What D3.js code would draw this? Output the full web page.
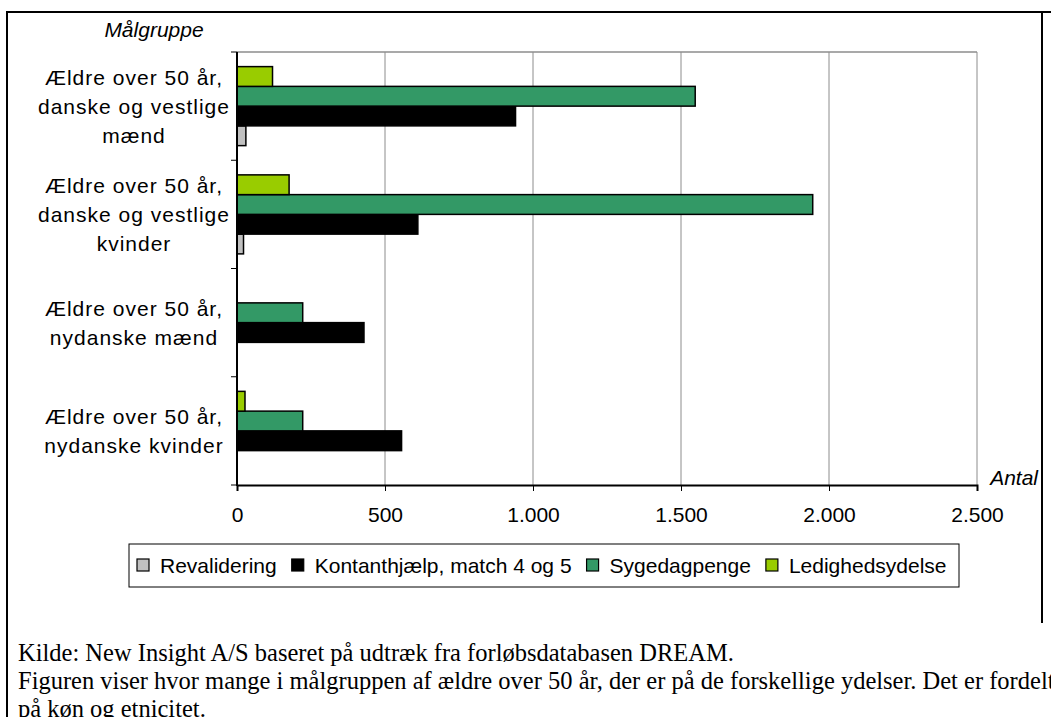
<!DOCTYPE html>
<html>
<head>
<meta charset="utf-8">
<script src="https://cdn.jsdelivr.net/npm/d3@7"></script>
<style>
  body { margin: 0; background: #fff; }
  svg { display: block; font-family: "Liberation Sans", Arial, sans-serif; }
</style>
</head>
<body>
<svg id="chart" width="1051" height="717"></svg>
<script>
// categories (top to bottom), each label split in lines as in the original
var categories = [
  ['Ældre over 50 år,', 'danske og vestlige', 'mænd'],
  ['Ældre over 50 år,', 'danske og vestlige', 'kvinder'],
  ['Ældre over 50 år,', 'nydanske mænd'],
  ['Ældre over 50 år,', 'nydanske kvinder']
];
var seriesNames = ['Revalidering', 'Kontanthjælp, match 4 og 5', 'Sygedagpenge', 'Ledighedsydelse'];
var revalidering    = [30, 22, 0, 0];
var kontanthjaelp   = [941, 611, 429, 556];
var sygedagpenge    = [1548, 1945, 222, 222];
var ledighedsydelse = [120, 176, 0, 27];
var xTicks = [0, 500, 1000, 1500, 2000, 2500];
var footnote = [
  'Kilde: New Insight A/S baseret på udtræk fra forløbsdatabasen DREAM.',
  'Figuren viser hvor mange i målgruppen af ældre over 50 år, der er på de forskellige ydelser. Det er fordelt',
  'på køn og etnicitet.'
];

var colors = {
  'Revalidering': '#c0c0c0',
  'Kontanthjælp, match 4 og 5': '#000000',
  'Sygedagpenge': '#339966',
  'Ledighedsydelse': '#99cc00'
};
var values = {
  'Revalidering': revalidering,
  'Kontanthjælp, match 4 og 5': kontanthjaelp,
  'Sygedagpenge': sygedagpenge,
  'Ledighedsydelse': ledighedsydelse
};

var svg = d3.select('#chart');
var plot = { left: 237, right: 977, top: 52, bottom: 485 };

// outer frame
svg.append('path')
  .attr('d', 'M7,717V12H1051')
  .attr('fill', 'none').attr('stroke', '#000').attr('stroke-width', 2);
svg.append('line')
  .attr('x1', 1042).attr('x2', 1042).attr('y1', 12).attr('y2', 623)
  .attr('stroke', '#000').attr('stroke-width', 2);

var x = d3.scaleLinear().domain([0, 2500]).range([plot.left, plot.right]);
var y = d3.scaleBand().domain(d3.range(categories.length))
  .range([plot.top, plot.bottom]).paddingInner(0).paddingOuter(0);
// Excel draws the series in reverse order inside each group
var inner = d3.scaleBand().domain(seriesNames.slice().reverse())
  .range([0, y.bandwidth()]).paddingInner(0).paddingOuter(0.74);

// gridlines and plot border
svg.append('g').selectAll('line')
  .data(xTicks.slice(1))
  .enter().append('line')
  .attr('x1', d => x(d)).attr('x2', d => x(d))
  .attr('y1', plot.top).attr('y2', plot.bottom)
  .attr('stroke', '#8c8c8c').attr('stroke-width', 1);
svg.append('line')
  .attr('x1', plot.left).attr('x2', plot.right)
  .attr('y1', plot.top).attr('y2', plot.top)
  .attr('stroke', '#8c8c8c').attr('stroke-width', 1.5);

// bars
var bars = [];
seriesNames.forEach(function (s) {
  values[s].forEach(function (v, i) { bars.push({ s: s, i: i, v: v }); });
});
svg.append('g').selectAll('rect')
  .data(bars.filter(d => d.v > 0))
  .enter().append('rect')
  .attr('x', x(0))
  .attr('y', d => y(d.i) + inner(d.s))
  .attr('width', d => x(d.v) - x(0))
  .attr('height', inner.bandwidth())
  .attr('fill', d => colors[d.s])
  .attr('stroke', '#000').attr('stroke-width', 1.5);

// axes
var xAxis = svg.append('g')
  .attr('transform', 'translate(0,' + plot.bottom + ')')
  .call(d3.axisBottom(x).tickValues(xTicks).tickSize(6).tickPadding(16)
    .tickFormat(d => d3.format(',')(d).replace(/,/g, '.')));
xAxis.select('.domain').attr('stroke-width', 2);
xAxis.selectAll('text').attr('font-size', 21).attr('fill', '#000')
  .attr('font-family', '"Liberation Sans", Arial, sans-serif');

var yAxis = svg.append('g');
yAxis.append('line')
  .attr('x1', plot.left).attr('x2', plot.left)
  .attr('y1', plot.top).attr('y2', plot.bottom + 1)
  .attr('stroke', '#000').attr('stroke-width', 2);
yAxis.selectAll('.tick')
  .data(d3.range(categories.length + 1))
  .enter().append('line')
  .attr('x1', plot.left - 6).attr('x2', plot.left)
  .attr('y1', d => d < categories.length ? y(d) : plot.bottom)
  .attr('y2', d => d < categories.length ? y(d) : plot.bottom)
  .attr('stroke', '#000').attr('stroke-width', 1);

// category labels
var lineH = 29;
var labels = svg.append('g').attr('font-size', 21).attr('letter-spacing', 1)
  .attr('text-anchor', 'middle');
categories.forEach(function (lines, i) {
  var cy = y(i) + y.bandwidth() / 2;
  var t = labels.append('text').attr('y', cy - (lines.length - 1) * lineH / 2 + 8);
  lines.forEach(function (l, j) {
    t.append('tspan').attr('x', 134).attr('dy', j === 0 ? 0 : lineH).text(l);
  });
});

// axis titles
svg.append('text').attr('x', 154).attr('y', 37)
  .attr('text-anchor', 'middle').attr('font-size', 21).attr('font-style', 'italic')
  .text('Målgruppe');
svg.append('text').attr('x', 1038).attr('y', 485)
  .attr('text-anchor', 'end').attr('font-size', 21).attr('font-style', 'italic')
  .text('Antal');

// legend
var legend = svg.append('g');
legend.append('rect')
  .attr('x', 129).attr('y', 544).attr('width', 830).attr('height', 43)
  .attr('fill', '#fff').attr('stroke', '#000').attr('stroke-width', 1);
var lx = 137;
seriesNames.forEach(function (s) {
  legend.append('rect')
    .attr('x', lx).attr('y', 559).attr('width', 12).attr('height', 12)
    .attr('fill', colors[s]).attr('stroke', '#000').attr('stroke-width', 1.2);
  var t = legend.append('text').attr('x', lx + 23).attr('y', 573)
    .attr('font-size', 21).text(s);
  lx += 23 + t.node().getComputedTextLength() + 15;
});

// footnote
var foot = svg.append('g')
  .attr('font-family', '"Liberation Serif", "Times New Roman", serif')
  .attr('font-size', 24.5);
footnote.forEach(function (l, i) {
  foot.append('text').attr('x', 18).attr('y', 661 + i * 28).text(l);
});
</script>
</body>
</html>
